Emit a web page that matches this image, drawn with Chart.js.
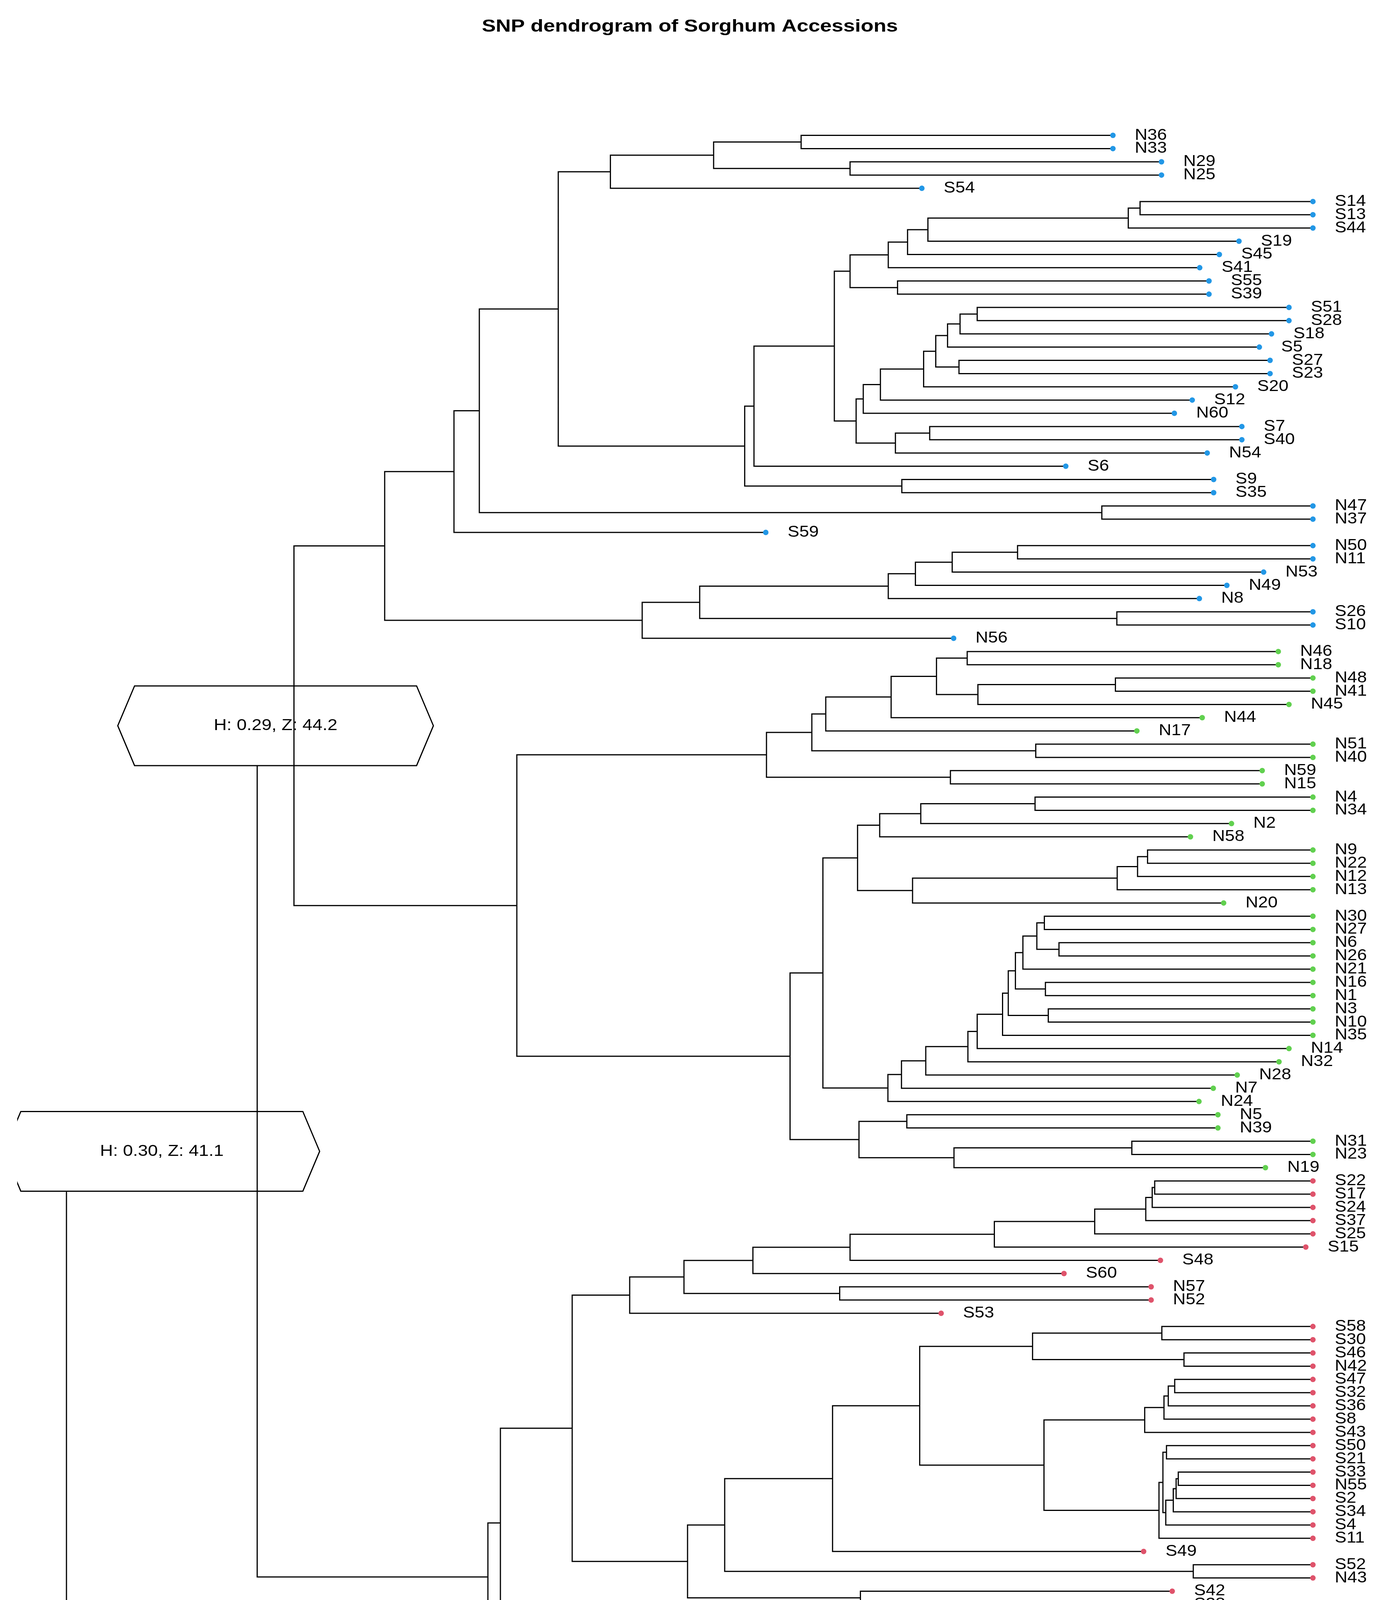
<!DOCTYPE html>
<html>
<head>
<meta charset="utf-8">
<title>SNP dendrogram of Sorghum Accessions</title>
<script src="https://cdn.jsdelivr.net/npm/chart.js@4.4.1/dist/chart.umd.min.js"></script>
<style>
  html, body { margin: 0; padding: 0; background: #fff; }
  #wrap { width: 3566px; height: 4735px; }
</style>
</head>
<body>
<div id="wrap"><canvas id="dendro" width="3566" height="4735"></canvas></div>
<script>
// accessions in leaf order, top to bottom
const leafLabels = [
  'N36','N33','N29','N25','S54','S14','S13','S44','S19','S45','S41','S55','S39',
  'S51','S28','S18','S5','S27','S23','S20','S12','N60','S7','S40','N54','S6','S9','S35',
  'N47','N37','S59','N50','N11','N53','N49','N8','S26','S10','N56',
  'N46','N18','N48','N41','N45','N44','N17','N51','N40','N59','N15','N4','N34','N2','N58',
  'N9','N22','N12','N13','N20','N30','N27','N6','N26','N21','N16','N1','N3','N10','N35',
  'N14','N32','N28','N7','N24','N5','N39','N31','N23','N19',
  'S22','S17','S24','S37','S25','S15','S48','S60','N57','N52','S53','S58','S30','S46','N42',
  'S47','S32','S36','S8','S43','S50','S21','S33','N55','S2','S34','S4','S11','S49','S52','N43',
  'S42','S38','BTx623','S31',
  'S57','N38','S56','S3','S1','S29','S16'
];

// height where each leaf ends
const leafHeights = [
  0.056, 0.056, 0.0424, 0.0424, 0.1095, 0, 0, 0, 0.0207, 0.0262, 0.0317, 0.0291, 0.0291,
  0.0067, 0.0067, 0.0116, 0.015, 0.012, 0.012, 0.0217, 0.0338, 0.0388, 0.0199, 0.0199, 0.0296, 0.0692, 0.0278, 0.0278,
  0, 0, 0.1532, 0, 0, 0.0138, 0.0241, 0.0318, 0, 0, 0.1006,
  0.0097, 0.0097, 0, 0, 0.0067, 0.031, 0.0493, 0, 0, 0.0142, 0.0142, 0, 0, 0.0228, 0.0343,
  0, 0, 0, 0, 0.025, 0, 0, 0, 0, 0, 0, 0, 0, 0, 0,
  0.0067, 0.0095, 0.0212, 0.0279, 0.0319, 0.0266, 0.0266, 0, 0, 0.0133,
  0, 0, 0, 0, 0, 0.002, 0.0427, 0.0697, 0.0453, 0.0453, 0.1041, 0, 0, 0, 0,
  0, 0, 0, 0, 0, 0, 0, 0, 0, 0, 0, 0, 0, 0.0474, 0, 0,
  0.0394, 0.0394, 0.1404, 0.1439,
  0.0368, 0.0368, 0, 0, 0, 0, 0
];

// merge height between leaf i and leaf i+1 (the tree is rebuilt from these)
const gapHeights = [
  0.1433, 0.1678, 0.1296, 0.1967, 0.2113, 0.0484, 0.0517, 0.1078, 0.1135, 0.1189,
  0.1296, 0.1163, 0.134, 0.094, 0.0988, 0.1023, 0.1056, 0.0991, 0.109, 0.1211,
  0.1259, 0.1279, 0.1073, 0.1169, 0.1565, 0.1591, 0.1151, 0.2334, 0.0591, 0.2405,
  0.2599, 0.0827, 0.101, 0.1113, 0.1189, 0.1717, 0.0549, 0.1878, 0.2853, 0.0968,
  0.1054, 0.0553, 0.0938, 0.1181, 0.1364, 0.1403, 0.0776, 0.153, 0.1015, 0.2229,
  0.0778, 0.1098, 0.1213, 0.1275, 0.0463, 0.0491, 0.0548, 0.1121, 0.1372, 0.0752,
  0.0773, 0.0711, 0.0812, 0.0833, 0.0749, 0.0853, 0.0741, 0.0869, 0.094, 0.0966,
  0.1084, 0.1152, 0.119, 0.1464, 0.1137, 0.1271, 0.0507, 0.1005, 0.2956, 0.0443,
  0.045, 0.0468, 0.0611, 0.0892, 0.1296, 0.1568, 0.1761, 0.1325, 0.1913, 0.2074,
  0.0423, 0.0785, 0.0361, 0.1101, 0.0387, 0.0405, 0.0417, 0.0471, 0.0753, 0.041,
  0.042, 0.0377, 0.0383, 0.0391, 0.0412, 0.0431, 0.1345, 0.1647, 0.0335, 0.1751,
  0.1267, 0.2275, 0.231, 0.349, 0.1241, 0.1333, 0.0634, 0.067, 0.0889, 0.0533
];

const clusterSizes = [39, 40, 35, 7];
const clusterColors = ['#2297E6', '#61D04F', '#DF536B', '#000000'];

const tickValues = [0, 0.05, 0.10, 0.15, 0.20, 0.25, 0.30, 0.35];

// boxes sitting on the branch above these merges
const noteGaps = [78, 38];
const noteLabels = ['H: 0.30, Z: 41.1', 'H: 0.29, Z: 44.2'];

const FONT = "'Liberation Sans', Arial, Helvetica, sans-serif";
const plotLimit = 0.3628; // left edge of the drawing region

// rebuild the tree: largest gap in a range is the node joining that range
const nodesByGap = {};
function buildNode(lo, hi) {
  if (lo === hi) return { h: leafHeights[lo], y: lo };
  let k = lo;
  for (let g = lo; g < hi; g++) {
    if (gapHeights[g] > gapHeights[k]) k = g;
  }
  const a = buildNode(lo, k);
  const b = buildNode(k + 1, hi);
  const node = { h: gapHeights[k], y: (a.y + b.y) / 2, gap: k, kids: [a, b] };
  a.parent = node;
  b.parent = node;
  nodesByGap[k] = node;
  return node;
}
const tree = buildNode(0, leafLabels.length - 1);

// elbows are split into layers so the boxes stack like in the original
const layers = [];
for (let i = 0; i <= noteGaps.length; i++) layers.push([]);
function collect(node, layer) {
  if (!node.kids) return;
  if (noteGaps.includes(node.gap)) layer += 1;
  node.layer = layer;
  const [a, b] = node.kids;
  layers[layer].push(
    { x: a.h, y: a.y }, { x: node.h, y: a.y },
    { x: node.h, y: b.y }, { x: b.h, y: b.y },
    { x: null, y: null }
  );
  collect(a, layer);
  collect(b, layer);
}
collect(tree, 0);

const leafColors = [];
clusterSizes.forEach((n, c) => {
  for (let i = 0; i < n; i++) leafColors.push(clusterColors[c]);
});

const maxLayer = layers.length - 1;
const datasets = [{
  label: 'tips',
  data: leafHeights.map((h, i) => ({ x: h, y: i })),
  showLine: false,
  pointRadius: 7,
  pointBorderWidth: 0,
  pointBackgroundColor: leafColors,
  clip: false,
  order: 0
}];
for (let L = maxLayer; L >= 0; L--) {
  datasets.push({
    label: 'branches ' + L,
    data: layers[L],
    showLine: true,
    spanGaps: false,
    borderColor: '#000',
    borderWidth: 3,
    borderJoinStyle: 'miter',
    pointRadius: 0,
    clip: false,
    order: datasets.length
  });
}

function drawBox(ctx, chart, gap, text) {
  const { x, y } = chart.scales;
  const node = nodesByGap[gap];
  const cx = (x.getPixelForValue(node.parent.h) + x.getPixelForValue(node.h)) / 2;
  const cy = y.getPixelForValue(node.y);
  const hw = 404, hh = 102, tip = 43;
  ctx.save();
  ctx.beginPath();
  ctx.rect(x.getPixelForValue(plotLimit), 0, chart.width, chart.height);
  ctx.clip();
  ctx.beginPath();
  ctx.moveTo(cx - hw, cy);
  ctx.lineTo(cx - hw + tip, cy - hh);
  ctx.lineTo(cx + hw - tip, cy - hh);
  ctx.lineTo(cx + hw, cy);
  ctx.lineTo(cx + hw - tip, cy + hh);
  ctx.lineTo(cx - hw + tip, cy + hh);
  ctx.closePath();
  ctx.fillStyle = '#fff';
  ctx.fill();
  ctx.lineWidth = 3;
  ctx.strokeStyle = '#000';
  ctx.stroke();
  ctx.translate(cx, cy);
  ctx.scale(1.12, 1);
  ctx.fillStyle = '#000';
  ctx.font = '41px ' + FONT;
  ctx.textAlign = 'center';
  ctx.textBaseline = 'middle';
  ctx.fillText(text, 0, 0);
  ctx.restore();
}

const dendroText = {
  id: 'dendroText',
  afterDatasetDraw(chart, args) {
    // dataset index 1 + (maxLayer - L) holds layer L
    const L = maxLayer - (args.index - 1);
    if (args.index === 0) return;
    noteGaps.forEach((g, i) => {
      if (nodesByGap[g].layer === L + 1) drawBox(chart.ctx, chart, g, noteLabels[i]);
    });
  },
  afterDraw(chart) {
    const { ctx, chartArea, scales: { x, y } } = chart;
    ctx.save();
    ctx.fillStyle = '#000';
    ctx.textBaseline = 'middle';

    // leaf names
    ctx.font = '40px ' + FONT;
    ctx.textAlign = 'left';
    leafLabels.forEach((name, i) => {
      ctx.save();
      ctx.translate(x.getPixelForValue(leafHeights[i]) + 56, y.getPixelForValue(i));
      ctx.scale(1.12, 1);
      ctx.fillText(name, 0, 0);
      ctx.restore();
    });

    // title
    ctx.save();
    ctx.translate((chartArea.left + chartArea.right) / 2 + 5, 69);
    ctx.scale(1.19, 1);
    ctx.font = 'bold 45px ' + FONT;
    ctx.textAlign = 'center';
    ctx.fillText('SNP dendrogram of Sorghum Accessions', 0, 0);
    ctx.restore();
    ctx.restore();
  }
};

new Chart(document.getElementById('dendro'), {
  type: 'scatter',
  data: { datasets: datasets },
  options: {
    responsive: false,
    devicePixelRatio: 1,
    animation: false,
    events: [],
    layout: { padding: { left: 161, right: 205, top: 150, bottom: 19 } },
    plugins: {
      legend: { display: false },
      tooltip: { enabled: false },
      title: { display: false }
    },
    scales: {
      x: {
        type: 'linear',
        reverse: true,
        min: 0,
        max: 0.35,
        afterBuildTicks: s => { s.ticks = tickValues.map(v => ({ value: v })); },
        grid: { drawOnChartArea: false, drawTicks: true, tickLength: 26, tickWidth: 3, tickColor: '#000' },
        border: { display: true, color: '#000', width: 3 },
        ticks: {
          color: '#000',
          padding: 22,
          autoSkip: false,
          maxRotation: 0,
          font: { family: FONT, size: 44 },
          callback: v => v.toFixed(2)
        }
      },
      y: {
        type: 'linear',
        display: false,
        reverse: true,
        min: -5.8,
        max: 125.34
      }
    }
  },
  plugins: [dendroText]
});
</script>
</body>
</html>
